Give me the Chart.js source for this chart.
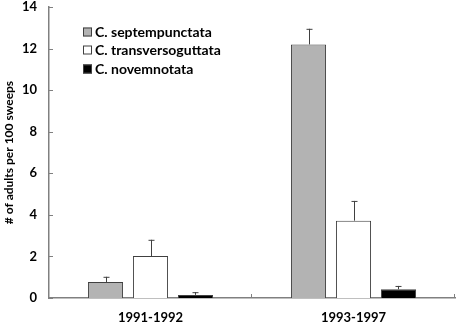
<!DOCTYPE html>
<html>
<head>
<meta charset="utf-8">
<script src="https://cdn.jsdelivr.net/npm/chart.js@4"></script>
<style>
  html, body { margin: 0; padding: 0; background: #fff; }
  #wrap { position: relative; width: 459px; height: 324px; }
</style>
</head>
<body>
<div id="wrap"><canvas id="chart" width="459" height="324"></canvas></div>
<script>
/* ---------- data ---------- */
const PERIODS = ["1991-1992", "1993-1997"];
const SPECIES = ["C. septempunctata", "C. transversoguttata", "C. novemnotata"];
const SEPTEM = [0.77, 12.2];
const TRANSV = [2.02, 3.72];
const NOVEM = [0.15, 0.42];
const SEPTEM_ERR = [0.25, 0.75];
const TRANSV_ERR = [0.78, 0.95];
const NOVEM_ERR = [0.13, 0.16];
const Y_TICKS = [0, 2, 4, 6, 8, 10, 12, 14];

const FILLS = ["#b3b3b3", "#ffffff", "#000000"];
const FONT = "Lato";

/* ---------- error bars, inner ticks, legend ---------- */
const extrasPlugin = {
    id: "extras",
    afterDatasetsDraw(chart) {
        const ctx = chart.ctx;
        const ys = chart.scales.y;
        const xs = chart.scales.x;
        const area = chart.chartArea;

        // error bars (upper only)
        ctx.save();
        ctx.strokeStyle = "#404040";
        ctx.lineWidth = 1;
        chart.data.datasets.forEach((ds, di) => {
            const meta = chart.getDatasetMeta(di);
            meta.data.forEach((bar, i) => {
                const top = ys.getPixelForValue(ds.data[i] + ds.err[i]);
                const x = Math.round(bar.x) + 0.5;
                ctx.beginPath();
                ctx.moveTo(x, bar.y);
                ctx.lineTo(x, top);
                ctx.moveTo(x - 3, top + 0.5);
                ctx.lineTo(x + 3, top + 0.5);
                ctx.stroke();
            });
        });
        ctx.restore();

        // y ticks pointing inward
        ctx.save();
        ctx.strokeStyle = "#808080";
        ctx.lineWidth = 1;
        for (const v of Y_TICKS) {
            const y = Math.round(ys.getPixelForValue(v)) + 0.5;
            ctx.beginPath();
            ctx.moveTo(area.left, y);
            ctx.lineTo(area.left + 4, y);
            ctx.stroke();
        }
        // x ticks at category boundaries, pointing up
        const w = (xs.right - xs.left) / PERIODS.length;
        for (let k = 0; k <= PERIODS.length; k++) {
            const x = Math.round(xs.left + k * w) - 0.5;
            ctx.beginPath();
            ctx.moveTo(x, area.bottom);
            ctx.lineTo(x, area.bottom - 4);
            ctx.stroke();
        }
        ctx.restore();

        // legend
        ctx.save();
        ctx.font = "bold 14px " + FONT;
        ctx.textBaseline = "middle";
        const rowsY = [32, 50, 69];
        SPECIES.forEach((name, i) => {
            const y = rowsY[i];
            ctx.fillStyle = FILLS[i];
            ctx.fillRect(83, y - 4.5, 9, 9);
            ctx.strokeStyle = "#404040";
            ctx.lineWidth = 1;
            ctx.strokeRect(83.5, y - 4, 8, 8);
            ctx.fillStyle = "#000";
            ctx.fillText(name, 95, y);
        });
        ctx.restore();
    }
};

function makeSet(label, data, err, i) {
    return {
        label,
        data,
        err,
        backgroundColor: FILLS[i],
        borderColor: "#404040",
        borderWidth: 1,
        borderSkipped: "bottom",
        barPercentage: 0.78,
        categoryPercentage: 0.665
    };
}

new Chart(document.getElementById("chart"), {
    type: "bar",
    data: {
        labels: PERIODS,
        datasets: [
            makeSet(SPECIES[0], SEPTEM, SEPTEM_ERR, 0),
            makeSet(SPECIES[1], TRANSV, TRANSV_ERR, 1),
            makeSet(SPECIES[2], NOVEM, NOVEM_ERR, 2)
        ]
    },
    options: {
        responsive: false,
        animation: false,
        layout: { padding: { top: 7, right: 4, left: 0, bottom: 0 } },
        plugins: {
            legend: { display: false },
            tooltip: { enabled: false }
        },
        scales: {
            x: {
                grid: { display: false, drawTicks: false },
                border: { display: true, color: "#808080", width: 1.5 },
                ticks: {
                    color: "#000",
                    font: { family: FONT, size: 13, weight: "bold" },
                    padding: 12
                },
                afterFit(scale) {
                    scale.height = 26;
                    scale.paddingLeft = 0;
                    scale.paddingRight = 0;
                }
            },
            y: {
                min: 0,
                max: 14,
                grid: { display: false, drawTicks: false },
                border: { display: true, color: "#808080", width: 1.5 },
                ticks: {
                    stepSize: 2,
                    color: "#000",
                    font: { family: FONT, size: 13, weight: "bold" },
                    padding: 12
                },
                title: {
                    display: true,
                    text: "# of adults per 100 sweeps",
                    color: "#000",
                    font: { family: FONT, size: 12, weight: "bold" },
                    padding: { top: 2, bottom: 0 }
                },
                afterFit(scale) {
                    scale.width = 49;
                    scale.paddingTop = 0;
                    scale.paddingBottom = 0;
                }
            }
        }
    },
    plugins: [extrasPlugin]
});
</script>
</body>
</html>
